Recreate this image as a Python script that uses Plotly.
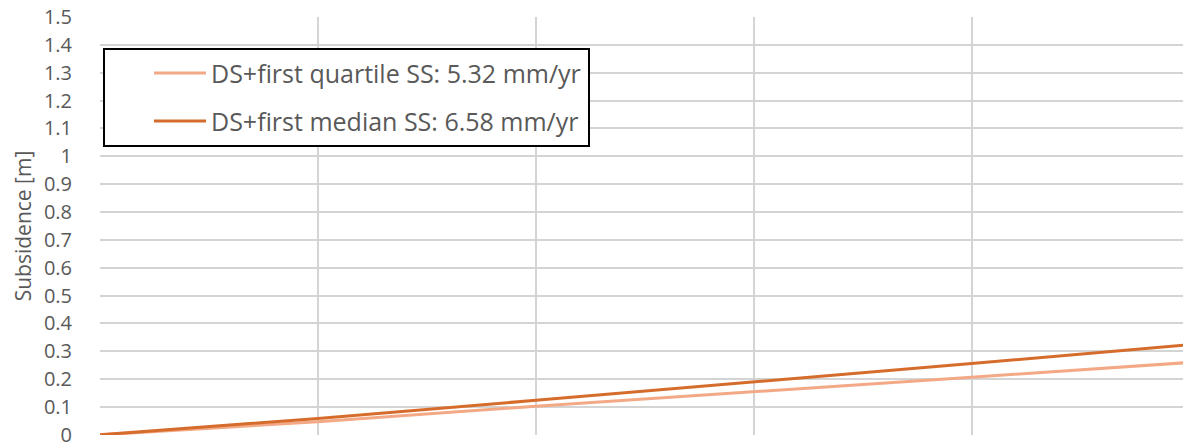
import plotly.graph_objects as go

# Data
years = [0, 10, 20, 30, 40, 50]
quartile_ss = [0.0, 0.047, 0.103, 0.154, 0.207, 0.260]
median_ss = [0.0, 0.059, 0.124, 0.189, 0.256, 0.324]
series_names = ["DS+first quartile SS: 5.32 mm/yr", "DS+first median SS: 6.58 mm/yr"]
series_colors = ["#F3A986", "#D66C2C"]
y_ticks = [round(i * 0.1, 1) for i in range(16)]
y_tick_text = ["0" if v == 0 else ("1" if v == 1 else f"{v:g}") for v in y_ticks]

W, H = 1183, 447
ML, MR, MT, MB = 100, 0, 17, 12
PW, PH = W - ML - MR, H - MT - MB

fig = go.Figure()
for name, vals, col in zip(series_names, [quartile_ss, median_ss], series_colors):
    fig.add_trace(go.Scatter(x=years, y=vals, mode="lines", name=name,
                             line=dict(color=col, width=3), showlegend=False))

font_family = "Open Sans, Noto Sans, sans-serif"
fig.update_layout(
    width=W, height=H,
    margin=dict(l=ML, r=MR, t=MT, b=MB, autoexpand=False),
    plot_bgcolor="white", paper_bgcolor="white",
    font=dict(family=font_family, color="#595959", size=19),
    xaxis=dict(range=[0, 49.7], dtick=10, showticklabels=False, showgrid=True,
               gridcolor="#D4D4D4", gridwidth=1.6, zeroline=False, showline=False, ticks="",
               automargin=False),
    yaxis=dict(range=[-0.0005, 1.5], tickvals=y_ticks, ticktext=y_tick_text, showgrid=True,
               gridcolor="#D4D4D4", gridwidth=1.6, zeroline=False, showline=False,
               ticks="outside", ticklen=23, tickcolor="rgba(0,0,0,0)",
               ticklabeloverflow="allow", automargin=False,
               tickfont=dict(size=20, color="#595959"),
               title=dict(text="Subsidence [m]", font=dict(size=21, color="#595959"), standoff=6)),
)

# Manual legend box (layout, in pixel-derived paper coordinates)
def px_x(px):
    return (px - ML) / PW

def px_y(py):
    return 1 - (py - MT) / PH

fig.add_shape(type="rect", xref="paper", yref="paper",
              x0=px_x(104), x1=px_x(589), y0=px_y(49), y1=px_y(146),
              line=dict(color="black", width=2), fillcolor="white", layer="above")
rows_y = [73, 121]
for name, col, ry in zip(series_names, series_colors, rows_y):
    fig.add_shape(type="line", xref="paper", yref="paper",
                  x0=px_x(154), x1=px_x(206), y0=px_y(ry), y1=px_y(ry),
                  line=dict(color=col, width=3), layer="above")
    fig.add_annotation(xref="paper", yref="paper", x=px_x(209), y=px_y(ry),
                       text=name, showarrow=False, xanchor="left", yanchor="middle",
                       font=dict(size=25, color="#595959", family=font_family))

fig.write_html("out.html")
